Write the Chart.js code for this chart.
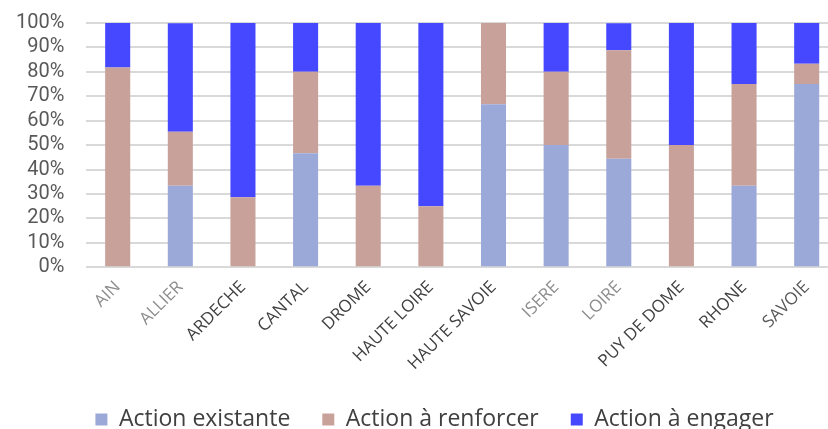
<!DOCTYPE html>
<html>
<head>
<meta charset="utf-8">
<script src="https://cdn.jsdelivr.net/npm/chart.js@4.4.1/dist/chart.umd.min.js"></script>
<style>
  html, body { margin: 0; padding: 0; background: #fff; overflow: hidden; }
  #wrap { position: relative; width: 838px; height: 429px; }
</style>
</head>
<body>
<div id="wrap"><canvas id="chart"></canvas></div>
<script>
// departements
const categories = ['AIN', 'ALLIER', 'ARDECHE', 'CANTAL', 'DROME', 'HAUTE LOIRE', 'HAUTE SAVOIE', 'ISERE', 'LOIRE', 'PUY DE DOME', 'RHONE', 'SAVOIE'];
// parts en %
const existante = [0, 33.3, 0, 46.7, 0, 0, 66.7, 50, 44.4, 0, 33.3, 75];
const renforcer = [81.8, 22.2, 28.6, 33.3, 33.3, 25, 33.3, 30, 44.4, 50, 41.7, 8.3];
const engager = [18.2, 44.4, 71.4, 20, 66.7, 75, 0, 20, 11.1, 50, 25, 16.7];
const yTicks = [0, 10, 20, 30, 40, 50, 60, 70, 80, 90, 100];

const labelColors = ['#8c8c8c', '#8c8c8c', '#404040', '#404040', '#404040', '#404040', '#404040', '#8c8c8c', '#8c8c8c', '#404040', '#404040', '#595959'];

function serie(label, values, color) {
    return {
        label: label,
        data: values,
        backgroundColor: color,
        borderWidth: 0,
        barPercentage: 0.4,
        categoryPercentage: 1
    };
}

// decale un peu la legende vers la droite
const legendShift = {
    id: 'legendShift',
    afterLayout(chart) {
        chart.legend.left += 13;
        chart.legend.right += 13;
    }
};

const ctx = document.getElementById('chart').getContext('2d');
new Chart(ctx, {
    type: 'bar',
    data: {
        labels: categories,
        datasets: [
            serie('Action existante', existante, '#9ba9d8'),
            serie('Action à renforcer', renforcer, '#c8a29a'),
            serie('Action à engager', engager, '#4648ff')
        ]
    },
    plugins: [legendShift],
    options: {
        responsive: true,
        maintainAspectRatio: false,
        animation: false,
        layout: { padding: { top: -4, left: 5, right: 0, bottom: -12 } },
        plugins: {
            tooltip: { enabled: false },
            legend: {
                position: 'bottom',
                labels: {
                    boxWidth: 12,
                    boxHeight: 12,
                    padding: 32,
                    color: '#404040',
                    font: { family: 'Open Sans', size: 23 }
                }
            }
        },
        scales: {
            x: {
                stacked: true,
                grid: { display: false },
                border: { display: false },
                ticks: {
                    minRotation: 45,
                    maxRotation: 45,
                    autoSkip: false,
                    padding: 2,
                    color: labelColors,
                    font: { family: 'Open Sans', size: 17 }
                }
            },
            y: {
                stacked: true,
                min: 0,
                max: 100,
                afterBuildTicks: function(axis) {
                    axis.ticks = yTicks.map(v => ({ value: v }));
                },
                grid: { color: '#d9d9d9', lineWidth: 2, drawTicks: true, tickLength: 11, tickColor: 'rgba(0,0,0,0)' },
                border: { display: false },
                ticks: {
                    autoSkip: false,
                    padding: 11,
                    color: '#595959',
                    font: { family: 'Roboto', size: 20 },
                    callback: v => v + '%'
                }
            }
        }
    }
});
</script>
</body>
</html>
